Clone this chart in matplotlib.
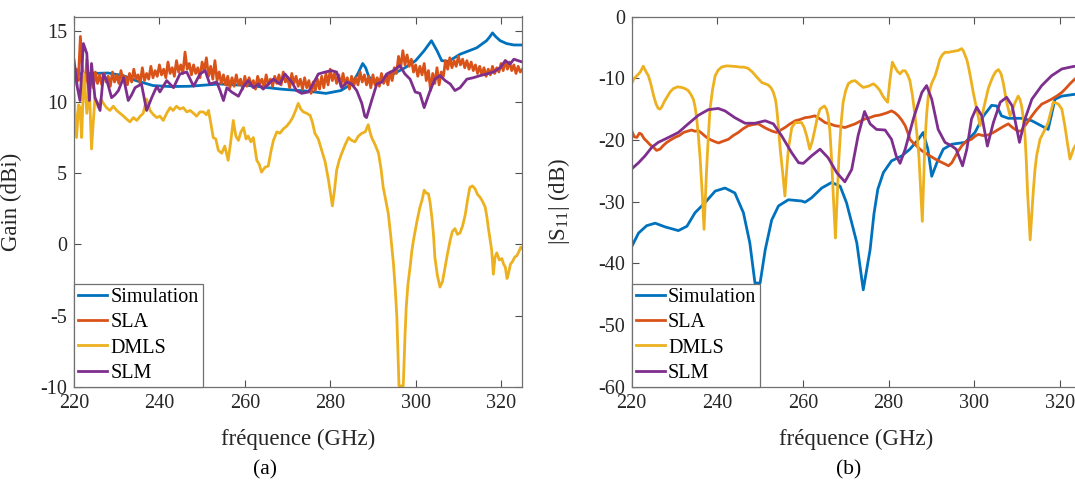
import numpy as np
import matplotlib
matplotlib.use("Agg")
import matplotlib.pyplot as plt

plt.rcParams['font.family'] = ['Liberation Serif', 'DejaVu Serif']
plt.rcParams['mathtext.fontset'] = 'custom'
plt.rcParams['mathtext.rm'] = 'Liberation Serif'
plt.rcParams['mathtext.it'] = 'Liberation Serif'
plt.rcParams['axes.unicode_minus'] = False

# ---------------- data : panel (a) gain ----------------
sim_gain_f = [220, 224, 228, 231.5, 234.5, 238.5, 242.5, 247, 254, 261, 268.5, 275, 279, 282.5, 285,
              286.5, 287.6, 288.3, 289, 290, 292, 295, 297.5, 300, 302, 303.7, 305, 306.1, 307.7,
              310.4, 314.3, 316.6, 317.3, 318, 318.7, 319.8, 321.3, 323, 325]
sim_gain = [11.96, 12.0, 12.03, 11.85, 11.5, 11.15, 11.08, 11.1, 11.26, 11.15, 10.9, 10.75, 10.6, 10.8, 11.26,
            12.0, 12.7, 12.4, 11.8, 11.4, 11.6, 12.0, 12.4, 12.9, 13.6, 14.3, 13.6, 12.9, 12.85,
            13.35, 13.8, 14.3, 14.55, 14.85, 14.6, 14.3, 14.1, 14.0, 14.0]

# SLA gain, 0.5 GHz steps from 220 GHz
sla_gain = [11.2, 12.3, 11.5, 14.6, 12.2, 10.8, 13.0, 10.6, 11.9, 11.0,
            12.1, 11.3, 11.9, 11.2, 12.0, 11.4, 11.8, 11.1, 12.1, 11.4,
            11.9, 11.3, 12.2, 11.5, 11.8, 11.2, 12.0, 11.4, 12.3, 11.6,
            11.9, 11.3, 12.4, 11.5, 12.0, 11.6, 12.5, 11.7, 12.2, 11.8,
            12.6, 11.9, 12.3, 11.7, 12.8, 12.0, 12.4, 11.8, 12.9, 12.1,
            12.6, 12.0, 13.5, 12.3, 12.7, 11.9, 12.6, 12.0, 12.4, 11.7,
            12.8, 12.2, 13.1, 11.8, 12.5, 11.6, 12.9, 11.5, 12.1, 11.3,
            11.9, 11.2, 11.8, 11.0, 11.7, 11.1, 11.9, 11.2, 11.6, 10.9,
            11.8, 11.1, 11.7, 11.2, 11.5, 10.9, 11.8, 11.3, 11.6, 11.0,
            11.9, 11.2, 11.6, 11.1, 11.8, 11.3, 11.9, 11.2, 12.1, 11.4,
            11.7, 11.0, 12.0, 11.3, 11.8, 11.1, 11.6, 10.9, 11.7, 11.0,
            11.5, 10.6, 11.4, 10.8, 11.6, 10.9, 11.8, 11.0, 12.0, 11.2,
            12.3, 11.5, 12.0, 11.3, 11.9, 11.1, 12.0, 11.2, 11.7, 10.9,
            11.8, 11.1, 11.7, 11.2, 12.1, 11.4, 11.9, 11.2, 11.8, 11.0,
            11.9, 11.2, 11.7, 11.1, 12.0, 11.3, 11.8, 11.2, 12.1, 11.5,
            12.4, 12.0, 13.2, 12.4, 13.6, 12.6, 13.3, 12.5, 13.0, 12.1,
            12.6, 11.8, 12.5, 11.9, 12.7, 11.5, 12.2, 10.8, 12.0, 11.3,
            12.4, 11.2, 12.1, 11.8, 12.9, 12.3, 13.1, 12.4, 12.9, 12.5,
            13.2, 12.6, 13.0, 12.4, 12.9, 12.3, 12.8, 12.2, 12.6, 12.0,
            12.5, 11.9, 12.4, 11.8, 12.3, 11.9, 12.5, 12.0, 12.4, 12.1,
            12.7, 12.2, 12.9, 12.3, 12.8, 12.2, 12.6, 12.0, 12.5, 12.1,
            12.3]

dmls_gain_f = [220, 220.6, 221.1, 221.4, 221.8, 222.3, 222.7, 223, 223.6, 224.1, 224.9, 225.7, 226.3, 226.9,
               227.6, 228.4, 229.2, 230, 230.8, 231.6, 232.3, 233.1, 233.9, 234.7, 235.5, 236.2, 237, 237.8,
               238.6, 239.4, 240.1, 240.9, 241.7, 242.5, 243.2, 244, 244.8, 245.6, 246.4, 247.2, 248, 248.7,
               249.5, 250.3, 251, 251.5, 252.1, 252.6, 253.2, 253.8, 254.6, 255.3, 256.1, 256.7, 257.3, 257.9,
               258.5, 259.1, 259.7, 260.3, 260.8, 261.4, 262, 262.8, 263.4, 263.9, 264.7, 265.5, 266.1, 266.7,
               267.5, 268.2, 269, 269.8, 270.6, 271.2, 271.9, 272.5, 273.1, 273.7, 274.5, 275.3, 275.8, 276.4,
               277.2, 278, 278.8, 279.6, 280.1, 280.5, 281, 281.5, 282.1, 282.7, 283.5, 284.3, 285, 285.8,
               286.6, 287.4, 288.2, 288.9, 289.3, 289.7, 290.5, 291.3, 291.9, 292.4, 293, 293.6, 294.2, 294.8,
               295.2, 295.6, 295.9, 296.1, 297.1, 297.5, 297.8, 298.2, 298.7, 299.1, 299.5, 300.3, 301, 301.5,
               302, 302.5, 303, 303.4, 303.8, 304.2, 304.5, 305.1, 305.7, 306.3, 306.9, 307.5, 308.1, 308.6,
               309.2, 309.8, 310.4, 311, 311.6, 312.2, 312.7, 313.3, 313.9, 314.5, 315.1, 315.7, 316.3, 316.7,
               317, 317.4, 317.8, 318.2, 318.6, 319, 319.6, 320.2, 320.6, 321, 321.4, 321.7, 322.2, 322.7,
               323.2, 323.7, 324.2, 324.6, 325]
dmls_gain = [10.56, 7.5, 9.8, 9.6, 7.5, 12.0, 10.5, 9.2, 11.0, 6.7, 10.3, 9.6, 10.2, 9.9,
             9.6, 9.4, 9.7, 9.4, 9.2, 9.0, 8.8, 8.6, 8.9, 8.7, 9.0, 9.2, 10.2, 9.4,
             9.1, 8.9, 9.0, 8.7, 9.2, 9.6, 9.4, 9.7, 9.5, 9.6, 9.3, 9.4, 9.2, 9.0,
             9.3, 9.3, 9.1, 9.4, 8.4, 7.5, 7.4, 6.6, 6.4, 6.9, 5.9, 7.2, 8.7, 7.6,
             7.3, 7.9, 8.2, 7.4, 7.6, 7.2, 7.5, 5.9, 5.6, 5.07, 5.4, 5.5, 6.5, 7.3,
             7.9, 7.8, 8.1, 8.3, 8.6, 8.9, 9.4, 9.9, 9.5, 9.3, 9.2, 9.05, 8.6, 7.8,
             7.4, 6.6, 5.8, 4.5, 3.5, 2.7, 3.8, 5.2, 5.9, 6.4, 7.0, 7.5, 7.3, 7.2,
             7.6, 7.8, 7.9, 8.4, 7.9, 7.5, 7.0, 6.4, 5.3, 4.0, 3.1, 2.15, 0.5, -1.35,
             -3.0, -5.1, -8.0, -9.95, -9.95, -6.5, -4.4, -2.8, -1.6, -0.5, 0.3, 1.6, 2.6, 3.1,
             3.8, 3.6, 3.55, 2.9, 1.9, 0.6, -0.9, -2.2, -3.0, -2.6, -1.6, -0.6, 0.3, 0.9,
             1.1, 0.7, 0.8, 1.3, 2.05, 3.2, 4.0, 4.1, 3.9, 3.5, 3.3, 3.0, 2.6, 1.9,
             1.2, 0.4, -0.4, -2.1, -0.9, -0.6, -1.1, -1.0, -1.4, -1.6, -2.4, -2.1, -1.4, -1.2,
             -0.9, -0.8, -0.5, -0.2, -0.3]

slm_gain_f = [220, 220.8, 221.4, 222.2, 223, 223.6, 224.1, 224.9, 225.5, 226.1, 226.9, 227.7, 228.8, 229.6,
              230.4, 231.6, 232.7, 233.5, 234.3, 235.8, 237, 238.2, 239.4, 240.1, 241.7, 243.3, 244.8, 246.4,
              248, 249.5, 250.7, 251.8, 253.4, 254.2, 255, 255.8, 256.9, 258.5, 259.7, 260.8, 262, 263.2,
              264.3, 265.5, 266.7, 268.2, 269.4, 271, 272.1, 273.3, 274.9, 276.4, 277.2, 278.8, 280.3, 281.5,
              282.7, 283.9, 285, 286.2, 287.4, 288.1, 288.5, 289.7, 290.9, 292.1, 293.2, 294.8, 296.3, 297.5,
              298.7, 299.9, 301, 302, 303.4, 304.5, 305.7, 306.9, 308.1, 309.2, 310.4, 312, 313.5, 315.1,
              316.6, 318.2, 319.8, 321, 322.1, 323, 324, 325]
slm_gain = [12.94, 11.0, 10.1, 14.1, 13.4, 10.1, 12.7, 10.3, 9.9, 9.4, 11.96, 11.5, 10.3, 10.5,
            10.8, 11.7, 10.1, 10.5, 11.0, 11.26, 9.4, 10.3, 11.1, 10.7, 11.5, 11.0, 11.96, 12.1,
            11.1, 11.96, 12.2, 11.26, 11.4, 10.8, 10.1, 11.0, 10.7, 10.4, 11.1, 11.5, 11.0, 11.26,
            10.9, 11.26, 11.6, 11.26, 11.96, 11.4, 10.8, 10.6, 10.7, 11.5, 11.96, 12.1, 12.2, 12.1,
            11.0, 11.4, 11.26, 10.8, 9.9, 9.0, 8.9, 10.1, 11.26, 11.4, 11.96, 12.2, 12.55, 11.96,
            11.6, 10.7, 10.6, 9.6, 10.8, 11.6, 11.85, 11.5, 11.26, 10.8, 11.0, 11.6, 11.7, 11.85,
            11.96, 12.1, 12.4, 12.9, 12.66, 13.0, 12.9, 12.8]

# ---------------- data : panel (b) |S11| ----------------
sim_s11_f = [220, 221.6, 223.5, 225.5, 227.8, 230.9, 232.9, 234.8, 237.1, 239.5, 241.8, 244.1, 246.1, 247.6,
             248.8, 250, 251.2, 252.7, 254.3, 256.6, 259.7, 260.5, 262, 264.4, 266.7, 268.7, 270.2, 271.8,
             272.6, 274.1, 275.7, 276.6, 277.5, 278.8, 280.7, 283.1, 285, 287, 288.1, 289.2, 290.1, 291.3,
             292.8, 294.8, 297.9, 300.2, 302.2, 304.1, 305.3, 306.4, 308, 311.1, 313.5, 315.4, 317.3, 318.9,
             320.5, 323.6, 325]
sim_s11 = [-37.3, -35.1, -33.9, -33.5, -34.1, -34.7, -34.0, -31.8, -30.2, -28.3, -27.8, -28.6, -31.8, -36.7,
           -43.2, -43.2, -37.8, -33.0, -30.7, -29.7, -29.9, -30.1, -29.4, -27.8, -26.9, -27.5, -30.2, -34.5,
           -36.7, -44.3, -37.8, -32.0, -28.0, -25.3, -23.4, -22.6, -21.5, -19.9, -18.8, -21.5, -25.9, -23.7,
           -21.5, -20.7, -20.4, -18.8, -16.1, -14.4, -14.5, -16.1, -16.5, -16.5, -16.9, -17.6, -18.3, -13.4,
           -12.9, -12.6, -12.5]

sla_s11_f = [220, 220.6, 221.2, 221.8, 222.3, 222.9, 223.5, 224.3, 225.1, 225.8, 226.6, 227.4, 228.2, 229.1,
             230.1, 231.1, 232.1, 233, 234, 234.8, 235.6, 236.5, 237.5, 238.5, 239.5, 240.3, 241, 241.8,
             242.6, 243.7, 244.9, 246, 247.2, 248.4, 249.6, 250.8, 251.9, 252.9, 253.9, 254.8, 255.8, 257,
             258.2, 259.3, 260.5, 261.6, 262.8, 264, 265.2, 266.3, 267.5, 268.6, 269.8, 271, 272.2, 273.3,
             274.5, 275.6, 276.8, 277.8, 278.8, 279.7, 280.7, 281.5, 282.3, 283.1, 283.9, 284.5, 285, 285.8,
             286.6, 287.5, 288.5, 289.7, 290.9, 292, 293.2, 294, 294.8, 295.5, 296.3, 297.1, 297.9, 298.6,
             299.4, 300.2, 301, 302.1, 303.3, 304.5, 305.7, 306.9, 308, 308.8, 309.6, 310.4, 311.1, 312.3,
             313.5, 314.6, 315.8, 317, 318.1, 319.3, 320.5, 321.5, 322.4, 323.6, 325]
sla_s11 = [-18.5, -19.5, -19.6, -18.9, -19.1, -19.8, -20.2, -20.8, -21.2, -21.7, -21.5, -20.9, -20.4, -20.0,
           -19.6, -19.3, -18.8, -18.6, -18.4, -18.6, -18.5, -19.0, -19.6, -20.0, -20.3, -20.5, -20.3, -20.1,
           -19.9, -19.3, -18.8, -18.2, -17.7, -17.5, -17.4, -17.9, -18.3, -18.6, -18.8, -18.4, -18.0, -17.4,
           -16.9, -16.7, -16.4, -16.3, -16.1, -16.6, -17.2, -17.4, -17.7, -17.8, -18.0, -17.7, -17.4, -17.0,
           -16.6, -16.4, -16.1, -16.0, -15.8, -15.6, -15.3, -15.6, -16.1, -16.8, -17.7, -18.8, -19.9, -20.5,
           -21.0, -21.6, -22.1, -22.6, -23.1, -23.5, -23.9, -24.2, -23.7, -22.8, -21.8, -21.0, -20.4, -20.1,
           -19.9, -19.4, -19.1, -19.3, -19.2, -18.8, -18.3, -17.8, -17.4, -17.9, -18.3, -18.6, -18.5, -17.3,
           -16.1, -15.1, -14.2, -13.8, -13.4, -12.9, -12.3, -11.6, -10.9, -10.1, -9.5]

dmls_s11_f = [220, 220.6, 221.2, 222, 222.7, 223.3, 223.9, 224.5, 225.1, 225.7, 226.2, 226.6, 227, 227.6,
              228.2, 229, 229.7, 230.7, 231.7, 232.5, 233.2, 233.8, 234.4, 234.8, 235.2, 235.6, 236, 236.5,
              236.9, 237.2, 237.5, 237.9, 238.3, 238.9, 239.5, 240.2, 241, 242.2, 243.4, 244.3, 245.3, 246.2,
              247.2, 248.2, 249.2, 250.4, 251.9, 252.6, 253.1, 253.6, 253.9, 254.3, 254.7, 255.3, 255.8, 256.2,
              256.6, 257.4, 258.2, 259.7, 260.3, 260.9, 261.6, 262.2, 262.8, 263.4, 264, 265, 265.5, 265.9,
              266.3, 266.7, 267.1, 267.6, 268, 268.4, 268.9, 269.4, 270, 270.6, 271.4, 272.2, 273.2, 274.1,
              275.3, 276.5, 277.3, 278, 278.6, 279.2, 279.8, 280.3, 280.9, 281.5, 282.1, 282.7, 283.3, 283.9,
              284.5, 285, 285.6, 286.2, 286.7, 287.1, 287.5, 287.9, 288.2, 288.5, 288.9, 289.3, 290.1, 290.9,
              291.5, 292, 292.6, 293.2, 294, 294.8, 295.5, 296.3, 297.1, 297.5, 297.9, 298.3, 298.7, 299.2,
              299.8, 300.6, 301.4, 301.8, 302.2, 302.8, 303.3, 304, 304.5, 305.1, 305.7, 306.3, 306.8, 307.6,
              308.4, 309, 309.6, 310.3, 310.7, 311.1, 311.5, 311.9, 312.2, 312.5, 313.1, 313.8, 314.2, 314.6,
              315.4, 316.2, 317.3, 317.9, 318.5, 319.1, 319.7, 320.5, 321.2, 321.8, 322.4, 323.2, 324, 325]
dmls_s11 = [-10.8, -10.0, -9.6, -9.0, -8.05, -8.9, -9.6, -11.0, -12.8, -14.2, -14.9, -15.0, -14.7, -13.8,
            -13.1, -12.2, -11.7, -11.4, -11.5, -11.7, -12.0, -12.6, -13.4, -14.6, -16.6, -19.5, -23.1, -29.0,
            -34.5, -29.5, -24.8, -19.5, -15.0, -11.8, -9.6, -8.7, -8.2, -8.0, -8.05, -8.1, -8.2, -8.2,
            -8.4, -9.0, -9.8, -10.7, -11.1, -11.6, -12.3, -13.5, -15.0, -18.0, -21.5, -25.5, -29.1, -25.0,
            -21.5, -18.0, -17.2, -17.2, -18.0, -19.4, -21.5, -20.2, -18.3, -16.3, -15.0, -14.5, -15.0, -16.1,
            -18.5, -23.1, -29.0, -35.9, -29.5, -23.1, -17.5, -13.9, -12.0, -10.9, -10.5, -10.4, -11.0, -11.5,
            -11.3, -10.9, -11.4, -12.0, -12.8, -13.4, -13.9, -10.5, -7.4, -8.2, -8.9, -9.3, -8.8, -8.8,
            -9.5, -10.4, -12.8, -16.1, -19.5, -22.6, -28.0, -33.2, -27.0, -20.4, -16.0, -12.8, -10.8, -9.6,
            -8.2, -6.9, -6.2, -5.8, -5.8, -5.7, -5.6, -5.5, -5.2, -5.6, -6.3, -7.0, -8.2, -10.0,
            -12.3, -15.0, -17.7, -16.5, -15.0, -13.2, -11.7, -10.4, -9.6, -8.9, -8.6, -9.3, -10.7, -13.9,
            -16.1, -15.0, -13.9, -12.9, -13.4, -14.5, -16.5, -19.3, -23.5, -28.6, -36.2, -28.6, -25.0, -22.6,
            -19.9, -18.8, -17.2, -15.5, -13.9, -14.0, -14.2, -15.0, -17.7, -20.5, -23.1, -21.5, -20.5, -20.0]

slm_s11_f = [220, 221.6, 223.1, 224.7, 226.2, 228.6, 230.9, 233.2, 235.6, 237.9, 240.2, 241.8, 244.1, 246.5,
             248.8, 251.2, 253.1, 255, 257.4, 259, 260.1, 262, 264, 265.9, 267.9, 269.8, 271.4, 272.9,
             274.4, 275.7, 277.2, 279.2, 280.7, 281.8, 282.7, 283.9, 285.8, 287.8, 288.9, 290.1, 291.6, 293.2,
             294.8, 295.8, 297.3, 298.3, 299.4, 300.6, 301.8, 303.1, 304.5, 306.1, 307.6, 308.9, 310.6, 311.9,
             313.5, 315.8, 318.1, 320.5, 323.2, 325]
slm_s11 = [-24.7, -23.7, -22.6, -21.2, -20.4, -19.6, -18.8, -17.4, -16.0, -15.1, -14.9, -15.3, -16.4, -17.3,
           -17.3, -16.9, -17.4, -19.3, -22.1, -23.7, -23.8, -22.6, -21.5, -22.9, -25.3, -26.8, -24.8, -19.3,
           -15.4, -17.4, -18.3, -18.4, -19.9, -22.6, -23.8, -21.5, -16.6, -12.3, -11.2, -13.4, -18.3, -20.4,
           -21.0, -21.5, -24.2, -21.5, -16.6, -14.7, -16.1, -21.0, -17.2, -13.9, -13.1, -14.5, -20.4, -16.6,
           -13.4, -11.2, -9.6, -8.5, -8.1, -8.0]

labels = ['Simulation', 'SLA', 'DMLS', 'SLM']
colors = ['#0072BD', '#D95319', '#EDB120', '#7E2F8E']
xticks = [220, 240, 260, 280, 300, 320]
gain_ticks = [-10, -5, 0, 5, 10, 15]
s11_ticks = [-60, -50, -40, -30, -20, -10, 0]

W, H = 1075, 483
fig = plt.figure(figsize=(W / 100, H / 100), dpi=100)
top_px, bot_px = 16.5, 386.7
ax1 = fig.add_axes([74 / W, 1 - bot_px / H, 448.4 / W, (bot_px - top_px) / H])
ax2 = fig.add_axes([631.7 / W, 1 - bot_px / H, 449.4 / W, (bot_px - top_px) / H])

sla_gain_f = 220 + 0.5 * np.arange(len(sla_gain))
lw = 2.0
ax1.plot(sim_gain_f, sim_gain, color=colors[0], lw=lw, label=labels[0])
ax1.plot(sla_gain_f, sla_gain, color=colors[1], lw=lw, label=labels[1])
ax1.plot(dmls_gain_f, dmls_gain, color=colors[2], lw=lw, label=labels[2])
ax1.plot(slm_gain_f, slm_gain, color=colors[3], lw=lw, label=labels[3])

ax2.plot(sim_s11_f, sim_s11, color=colors[0], lw=lw, label=labels[0])
ax2.plot(sla_s11_f, sla_s11, color=colors[1], lw=lw, label=labels[1])
ax2.plot(dmls_s11_f, dmls_s11, color=colors[2], lw=lw, label=labels[2])
ax2.plot(slm_s11_f, slm_s11, color=colors[3], lw=lw, label=labels[3])

ax1.set_xlim(220, 325)
ax1.set_ylim(-10, 16)
ax1.set_yticks(gain_ticks)
ax2.set_xlim(220, 325)
ax2.set_ylim(-60, 0)
ax2.set_yticks(s11_ticks)

for ax, right in ((ax1, True), (ax2, False)):
    ax.set_xticks(xticks)
    ax.tick_params(direction='in', top=True, right=right, length=5, width=0.8,
                   labelsize=14.5, labelcolor='#262626', color='#505050', pad=5)
    for s in ax.spines.values():
        s.set_color('#707070')
        s.set_linewidth(0.9)
    leg = ax.legend(loc='lower left', bbox_to_anchor=(0, 0), borderaxespad=0, fontsize=14.5,
                    handlelength=1.45, handletextpad=0.15, borderpad=0.2, labelspacing=0.3,
                    fancybox=False, framealpha=1, edgecolor='#707070')
    leg.get_frame().set_linewidth(0.9)

ax1.set_ylabel('Gain (dBi)', fontsize=16.5, color='#262626')
ax1.yaxis.set_label_coords(-0.116, 0.5)
ax2.set_ylabel('|S$_{11}$| (dB)', fontsize=16.5, color='#262626')
ax2.yaxis.set_label_coords(-0.133, 0.5)

fig.text(298 / W, 1 - 439 / H, 'fréquence (GHz)', fontsize=16.5, ha='center', va='center', color='#262626')
fig.text(856 / W, 1 - 439 / H, 'fréquence (GHz)', fontsize=16.5, ha='center', va='center', color='#262626')
fig.text(265 / W, 1 - 470 / H, '(a)', fontsize=15.5, ha='center', va='center', color='black')
fig.text(849 / W, 1 - 470 / H, '(b)', fontsize=15.5, ha='center', va='center', color='black')

fig.savefig('out.png', dpi=100)
